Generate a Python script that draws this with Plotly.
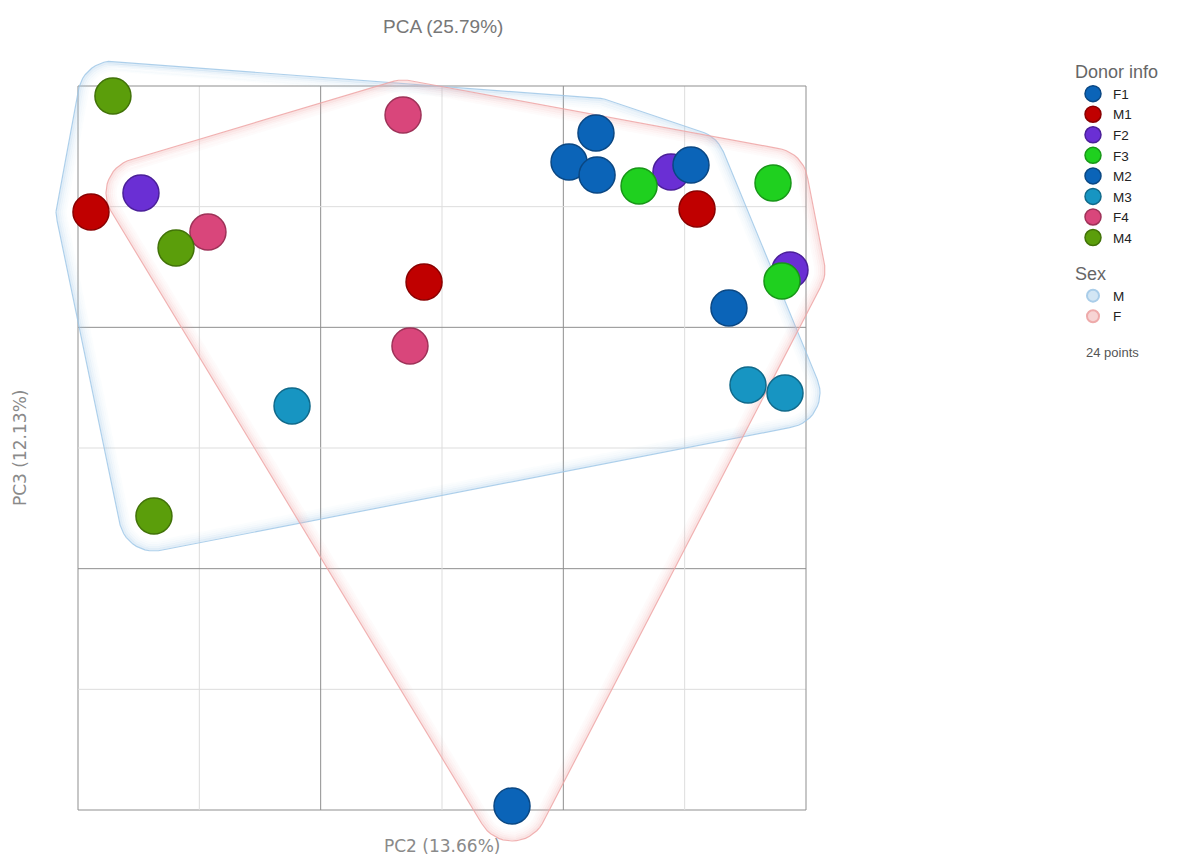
import numpy as np
import plotly.graph_objects as go

# PCA scores (PC2, PC3) per donor, in grid units
donors = ["F1", "M1", "F2", "F3", "M2", "M3", "F4", "M4"]
pc2 = {
    "F1": [4.047, 4.278, 3.577],
    "M1": [5.102, 0.107, 2.852],
    "F2": [4.887, 0.519, 5.868],
    "F3": [4.624, 5.728, 5.802],
    "M2": [4.269, 5.052, 5.365],
    "M3": [1.764, 5.522, 5.827],
    "F4": [2.679, 1.071, 2.736],
    "M4": [0.288, 0.808, 0.626],
}
pc3 = {
    "F1": [5.370, 5.262, 0.033],
    "M1": [4.981, 4.956, 4.376],
    "F2": [5.287, 5.113, 4.475],
    "F3": [5.171, 5.196, 4.384],
    "M2": [5.610, 5.345, 4.160],
    "M3": [3.348, 3.522, 3.456],
    "F4": [5.760, 4.790, 3.845],
    "M4": [5.917, 4.657, 2.436],
}
donor_colors = {
    "F1": "#0b64b8", "M1": "#c00000", "F2": "#6a2fd4", "F3": "#1fd01f",
    "M2": "#0b64b8", "M3": "#1795c2", "F4": "#d9467b", "M4": "#5b9e0b",
}
donor_edges = {
    "F1": "#0a4783", "M1": "#8a0000", "F2": "#4a1f99", "F3": "#179617",
    "M2": "#0a4783", "M3": "#10698a", "F4": "#9e3258", "M4": "#417208",
}
sex_groups = ["M", "F"]
sex_rgb = {"M": (160, 200, 232), "F": (238, 165, 165)}
sex_legend_fill = {"M": "#d3e6f4", "F": "#f7d4d4"}
sex_legend_edge = {"M": "#a9cde9", "F": "#eeaaaa"}
grid_ticks = [0, 1, 2, 3, 4, 5, 6]

# Page geometry (pixels)
W, H = 1178, 858
ML, MR, MT, MB = 30, 324, 38, 2
GX0, GX1, GY0, GY1 = 78, 806, 86, 810          # grid box
sx = (GX1 - GX0) / 6.0
sy = (GY1 - GY0) / 6.0
xrange_ = [-(GX0 - ML) / sx, 6 + (W - MR - GX1) / sx]
yrange_ = [-(H - MB - GY1) / sy, 6 + (GY0 - MT) / sy]


def to_paper(px, py):
    return (px - ML) / (W - ML - MR), 1 - (py - MT) / (H - MT - MB)


def rgba(rgb, a):
    return "rgba(%d,%d,%d,%.3f)" % (rgb[0], rgb[1], rgb[2], a)


def hull(points):
    pts = sorted(set(points))
    def cross(o, a, b):
        return (a[0]-o[0])*(b[1]-o[1]) - (a[1]-o[1])*(b[0]-o[0])
    lower, upper = [], []
    for p in pts:
        while len(lower) >= 2 and cross(lower[-2], lower[-1], p) <= 0:
            lower.pop()
        lower.append(p)
    for p in reversed(pts):
        while len(upper) >= 2 and cross(upper[-2], upper[-1], p) <= 0:
            upper.pop()
        upper.append(p)
    return lower[:-1] + upper[:-1]


def rounded_hull(xs, ys, pad_px):
    ang = np.linspace(0, 2*np.pi, 48, endpoint=False)
    pts = []
    for x, y in zip(xs, ys):
        for a in ang:
            pts.append((round(x + pad_px*np.cos(a)/sx, 6),
                        round(y + pad_px*np.sin(a)/sy, 6)))
    h = hull(pts)
    h.append(h[0])
    return [p[0] for p in h], [p[1] for p in h]


fig = go.Figure()

# Sex hulls: soft outline with an inward fading glow
for s in sex_groups:
    gx = [v for d in donors if d[0] == s for v in pc2[d]]
    gy = [v for d in donors if d[0] == s for v in pc3[d]]
    hx, hy = rounded_hull(gx, gy, 35)
    fig.add_trace(go.Scatter(x=hx, y=hy, mode="lines",
                             line=dict(color=rgba(sex_rgb[s], 0.85), width=1.2),
                             hoverinfo="skip", showlegend=False))
    for pad, a in [(33.5, 0.30), (31.5, 0.20), (29.5, 0.13), (27.5, 0.08), (25.5, 0.04)]:
        ix, iy = rounded_hull(gx, gy, pad)
        fig.add_trace(go.Scatter(x=ix, y=iy, mode="lines",
                                 line=dict(color=rgba(sex_rgb[s], a), width=2.2),
                                 hoverinfo="skip", showlegend=False))

# Donor points
for d in donors:
    fig.add_trace(go.Scatter(
        x=pc2[d], y=pc3[d], mode="markers", name=d, legend="legend",
        marker=dict(size=36, color=donor_colors[d],
                    line=dict(color=donor_edges[d], width=1.5)),
        cliponaxis=False))

# Sex legend entries
for s in sex_groups:
    fig.add_trace(go.Scatter(
        x=[None], y=[None], mode="markers", name=s, legend="legend2",
        marker=dict(size=12, color=sex_legend_fill[s],
                    line=dict(color=sex_legend_edge[s], width=2))))

# Grid
shapes = []
for t in grid_ticks:
    major = t % 2 == 0
    col = "#8f8f8f" if major else "#dddddd"
    shapes.append(dict(type="line", xref="x", yref="y", x0=t, x1=t, y0=0, y1=6,
                       line=dict(color=col, width=1), layer="below"))
    shapes.append(dict(type="line", xref="x", yref="y", x0=0, x1=6, y0=t, y1=t,
                       line=dict(color=col, width=1), layer="below"))

anns = []
tx, ty = to_paper(443, 27)
anns.append(dict(text="PCA (25.79%)", x=tx, y=ty, xref="paper", yref="paper",
                 xanchor="center", yanchor="middle", showarrow=False,
                 font=dict(family="Liberation Sans", size=19, color="#777777")))
bx, by = to_paper(442, 846)
anns.append(dict(text="PC2 (13.66%)", x=bx, y=by, xref="paper", yref="paper",
                 xanchor="center", yanchor="middle", showarrow=False,
                 font=dict(family="DejaVu Sans", size=17, color="#8a8a8a")))
lx, ly = to_paper(20, 448)
anns.append(dict(text="PC3 (12.13%)", x=lx, y=ly, xref="paper", yref="paper",
                 xanchor="center", yanchor="middle", textangle=-90, showarrow=False,
                 font=dict(family="DejaVu Sans", size=17, color="#8a8a8a")))
px_, py_ = to_paper(1084, 352)
anns.append(dict(text="24 points", x=px_, y=py_, xref="paper", yref="paper",
                 xanchor="left", yanchor="middle", showarrow=False,
                 font=dict(family="Liberation Sans", size=13, color="#555555")))

fig.update_layout(
    width=W, height=H,
    margin=dict(l=ML, r=MR, t=MT, b=MB),
    paper_bgcolor="white", plot_bgcolor="white",
    xaxis=dict(range=xrange_, visible=False, fixedrange=True),
    yaxis=dict(range=yrange_, visible=False, fixedrange=True),
    shapes=shapes, annotations=anns,
    font=dict(family="Liberation Sans", color="#222222"),
    legend=dict(xref="container", yref="container", x=1073/W, y=1-55/H,
                xanchor="left", yanchor="top",
                title=dict(text="Donor info", font=dict(size=18, color="#666666")),
                font=dict(size=13.5, color="#222222"), itemwidth=30,
                bgcolor="rgba(0,0,0,0)", tracegroupgap=0),
    legend2=dict(xref="container", yref="container", x=1073/W, y=1-257/H,
                 xanchor="left", yanchor="top",
                 title=dict(text="Sex", font=dict(size=18, color="#666666")),
                 font=dict(size=13.5, color="#222222"), itemwidth=30,
                 bgcolor="rgba(0,0,0,0)"),
    showlegend=True,
)

fig.write_html("out.html")
